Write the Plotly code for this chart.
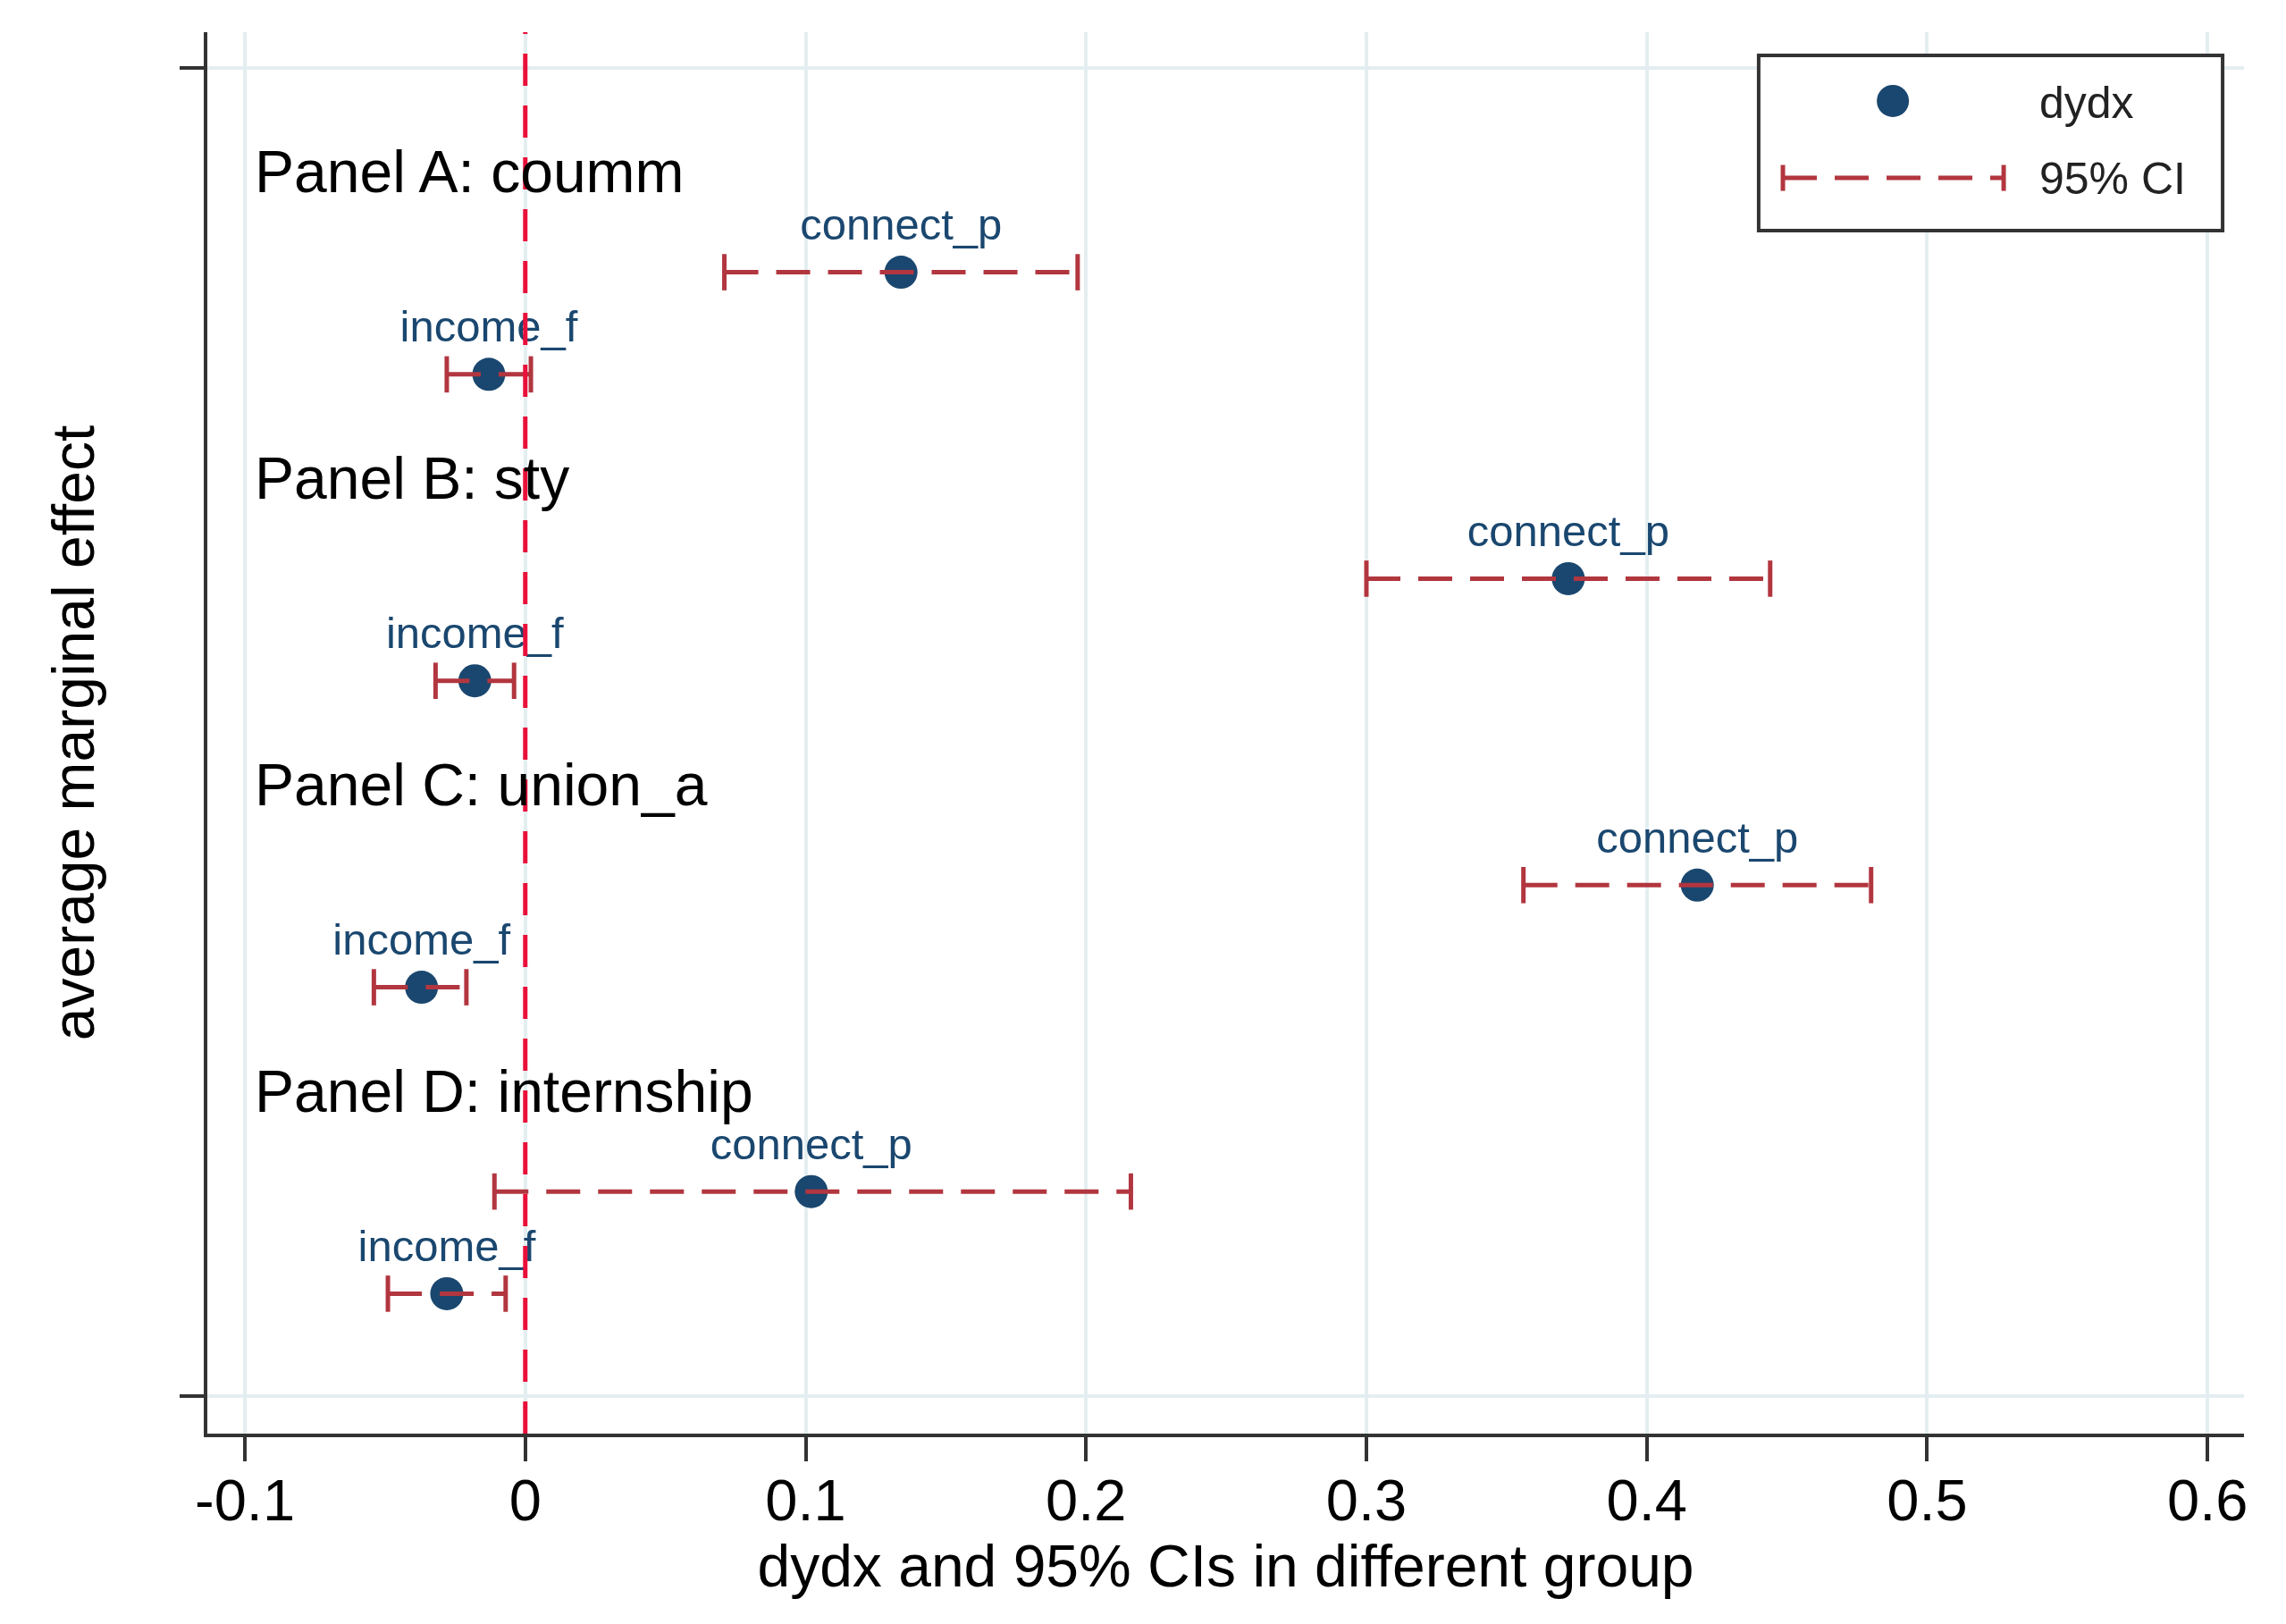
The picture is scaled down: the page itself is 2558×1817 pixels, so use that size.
import plotly.graph_objects as go

# ---------------- data ----------------
panels = ["Panel A: coumm", "Panel B: sty", "Panel C: union_a", "Panel D: internship"]
variables = ["connect_p", "income_f"]

dydx_connect = [0.134, 0.372, 0.418, 0.102]
lo_connect = [0.071, 0.300, 0.356, -0.011]
hi_connect = [0.197, 0.444, 0.480, 0.216]

dydx_income = [-0.013, -0.018, -0.037, -0.028]
lo_income = [-0.028, -0.032, -0.054, -0.049]
hi_income = [0.002, -0.004, -0.021, -0.007]

x_tickvals = [-0.1, 0, 0.1, 0.2, 0.3, 0.4, 0.5, 0.6]
x_ticktext = ["-0.1", "0", "0.1", "0.2", "0.3", "0.4", "0.5", "0.6"]
y_tickvals = [0, 13]

x_title = "dydx and 95% CIs in different group"
y_title = "average marginal effect"
legend_labels = ["dydx", "95% CI"]

# ---------------- styles ----------------
FONT = "Liberation Sans, Arial, Helvetica, sans-serif"
NAVY = "#1a476f"
CI_RED = "#b2363f"
ZERO_RED = "#e8103a"
GRID = "#e4eef0"
AXIS = "#333333"

# rows: heading, connect_p, income_f per panel
head_rows = [1 + 3 * i for i in range(len(panels))]
conn_rows = [2 + 3 * i for i in range(len(panels))]
inc_rows = [3 + 3 * i for i in range(len(panels))]

pt_x, pt_y, pt_text = [], [], []
ci_x, ci_y = [], []
for i in range(len(panels)):
    pt_x += [dydx_connect[i], dydx_income[i]]
    pt_y += [conn_rows[i], inc_rows[i]]
    pt_text += [variables[0], variables[1]]
    ci_x += [lo_connect[i], hi_connect[i], None, lo_income[i], hi_income[i], None]
    ci_y += [conn_rows[i], conn_rows[i], None, inc_rows[i], inc_rows[i], None]

fig = go.Figure()

fig.add_trace(go.Scatter(
    x=pt_x, y=pt_y, mode="markers+text", text=pt_text,
    textposition="top center",
    textfont=dict(family=FONT, size=49, color=NAVY),
    marker=dict(size=37, color=NAVY),
    name=legend_labels[0], showlegend=False, cliponaxis=False,
))

fig.add_trace(go.Scatter(
    x=ci_x, y=ci_y, mode="lines+markers",
    line=dict(color=CI_RED, width=5, dash="38px,20px"),
    marker=dict(symbol="line-ns", size=29, color=CI_RED,
                line=dict(color=CI_RED, width=5)),
    name=legend_labels[1], showlegend=False, connectgaps=False,
))

# zero reference line
fig.add_shape(type="line", xref="x", yref="paper", x0=0, x1=0, y0=0, y1=1,
              line=dict(color=ZERO_RED, width=5, dash="36px,22px"), layer="above")

# panel headings
for i, p in enumerate(panels):
    fig.add_annotation(x=-0.1, y=head_rows[i], xref="x", yref="y", text=p,
                       showarrow=False, xanchor="left", yanchor="middle", xshift=9, yshift=-2,
                       font=dict(family=FONT, size=66, color="black"))

# ---------------- manual legend ----------------
lx0, lx1, ly0, ly1 = 0.7617, 0.9895, 0.8584, 0.9834
fig.add_shape(type="rect", xref="paper", yref="paper", x0=lx0, x1=lx1, y0=ly0, y1=ly1,
              line=dict(color=AXIS, width=4), fillcolor="white", layer="above")
mx, my = 0.8276, 0.9509
fig.add_shape(type="circle", xref="paper", yref="paper", xsizemode="pixel", ysizemode="pixel",
              xanchor=mx, yanchor=my, x0=-18, x1=18, y0=-18, y1=18,
              fillcolor=NAVY, line=dict(color=NAVY, width=0), layer="above")
cx0, cx1, cy = 0.7736, 0.8820, 0.8960
fig.add_shape(type="line", xref="paper", yref="paper", x0=cx0, x1=cx1, y0=cy, y1=cy,
              line=dict(color=CI_RED, width=5, dash="38px,20px"), layer="above")
for cxx in (cx0, cx1):
    fig.add_shape(type="line", xref="paper", yref="paper", ysizemode="pixel", yanchor=cy,
                  x0=cxx, x1=cxx, y0=-14.5, y1=14.5,
                  line=dict(color=CI_RED, width=5), layer="above")
fig.add_annotation(xref="paper", yref="paper", x=0.8986, y=0.9496, text=legend_labels[0],
                   showarrow=False, xanchor="left", yanchor="middle",
                   font=dict(family=FONT, size=50, color="#222222"))
fig.add_annotation(xref="paper", yref="paper", x=0.8986, y=0.8954, text=legend_labels[1],
                   showarrow=False, xanchor="left", yanchor="middle",
                   font=dict(family=FONT, size=50, color="#222222"))

# page body has an 8px margin: size the figure so the plot area lands where the reference has it
fig.update_layout(
    width=2542, height=1801,
    margin=dict(l=224, r=39, t=28, b=205, autoexpand=False),
    paper_bgcolor="white", plot_bgcolor="white",
    font=dict(family=FONT, color="black"),
    showlegend=False,
)

fig.update_xaxes(
    range=[-0.1134, 0.613], tickvals=x_tickvals, ticktext=x_ticktext,
    showgrid=True, gridcolor=GRID, gridwidth=4, zeroline=False,
    showline=True, linecolor=AXIS, linewidth=4,
    ticks="outside", ticklen=27, tickwidth=4, tickcolor=AXIS,
    ticklabelstandoff=-12,
    tickfont=dict(family=FONT, size=65, color="black"),
    title=dict(text=x_title, font=dict(family=FONT, size=66, color="black"), standoff=0),
)
fig.update_yaxes(
    range=[13.37, -0.35], tickvals=y_tickvals, ticktext=["", ""],
    showgrid=True, gridcolor=GRID, gridwidth=4, zeroline=False,
    showline=True, linecolor=AXIS, linewidth=4,
    ticks="outside", ticklen=27, tickwidth=4, tickcolor=AXIS,
    title=dict(text=y_title, font=dict(family=FONT, size=66, color="black"), standoff=73),
)

fig.write_html("out.html")
